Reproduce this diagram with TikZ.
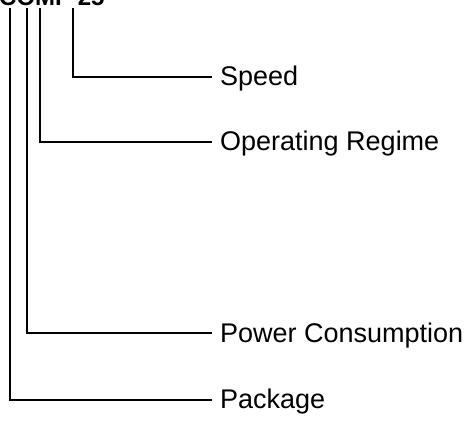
\documentclass[tikz,border=0pt]{standalone}
\usepackage{fontspec}
\setmainfont{Liberation Sans}
\begin{document}
\begin{tikzpicture}[x=1pt,y=-1pt,
  leaf/.style={anchor=base west,inner sep=0pt,font=\fontsize{27}{27}\selectfont},
  conn/.style={line width=1.3pt}]
\useasboundingbox (0,0) rectangle (464,441);
\node[anchor=base west,inner sep=0pt,font=\bfseries\fontsize{24}{24}\selectfont] (root) at (-1,6) {COMP 25};
\coordinate (t1) at (10,8);
\coordinate (t2) at (27,8);
\coordinate (t3) at (40,8);
\coordinate (t4) at (73,8);
\node[leaf] (speed) at (220,86) {Speed};
\node[leaf] (op) at (220,151) {Operating Regime};
\node[leaf] (pow) at (220,342) {Power Consumption};
\node[leaf] (pack) at (220,409) {Package};
\draw[conn] (t4) |- ([xshift=-8pt]speed.west |- 0,77);
\draw[conn] (t3) |- ([xshift=-8pt]op.west |- 0,142);
\draw[conn] (t2) |- ([xshift=-8pt]pow.west |- 0,333);
\draw[conn] (t1) |- ([xshift=-8pt]pack.west |- 0,400);
\end{tikzpicture}
\end{document}
